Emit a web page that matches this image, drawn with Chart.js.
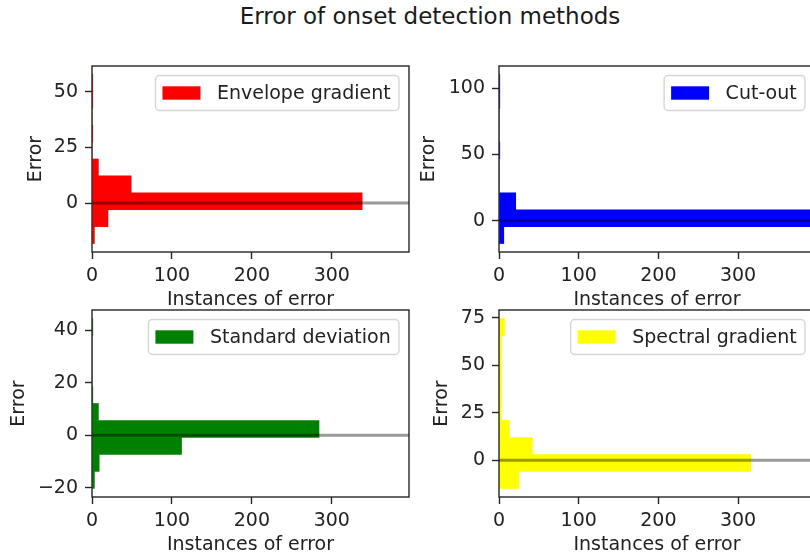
<!DOCTYPE html>
<html>
<head>
<meta charset="utf-8">
<script src="https://cdn.jsdelivr.net/npm/chart.js@4.4.0/dist/chart.umd.min.js"></script>
<style>
  html, body { margin: 0; padding: 0; background: #fff; overflow: hidden; width: 810px; height: 559px; }
  #title { position: absolute; left: 0; width: 860px; top: 5px; text-align: center;
           font-family: 'DejaVu Sans', sans-serif; font-size: 23px; line-height: 23px; color: #1a1a1a; }
  canvas { position: absolute; }
</style>
</head>
<body>
<div id="title">Error of onset detection methods</div>
<canvas id="c1" width="420" height="272" style="left:0px;top:40px"></canvas>
<canvas id="c2" width="420" height="272" style="left:406px;top:40px"></canvas>
<canvas id="c3" width="420" height="273" style="left:0px;top:284px"></canvas>
<canvas id="c4" width="420" height="273" style="left:406px;top:284px"></canvas>
<script>
// Histogram bin centres (error) and number of instances per bin, one pair per method
const envelopeErrors = [-14.4, -6.8, 0.8, 8.4, 16.0, 23.6, 31.2, 38.8, 46.4, 54.0];
const envelopeCounts = [3, 20, 338, 49, 8, 0, 1, 0, 1, 1];
const cutoutErrors   = [-10.93, 1.82, 14.57, 27.32, 40.07, 52.82, 65.57, 78.32, 91.07, 103.82];
const cutoutCounts   = [6, 391, 21, 0, 0, 1, 0, 0, 1, 1];
const stdErrors      = [-17.06, -10.58, -4.10, 2.38, 8.86, 15.34, 21.82, 28.30, 34.78, 41.26];
const stdCounts      = [3, 9, 112, 284, 8, 1, 0, 0, 0, 1];
const spectralErrors = [-10.33, -1.39, 7.55, 16.49, 25.43, 34.37, 43.31, 52.25, 61.19, 70.13];
const spectralCounts = [25, 316, 42, 13, 3, 3, 3, 3, 3, 7];

// Tick values
const countTicks    = [0, 100, 200, 300];
const envelopeTicks = [0, 25, 50];
const cutoutTicks   = [0, 50, 100];
const stdTicks      = [-20, 0, 20, 40];
const spectralTicks = [0, 25, 50, 75];

const COUNT_MAX = 396.6;
const ZERO_ERROR = 0;

const FONT = "'DejaVu Sans', sans-serif";
const INK = '#222222';
Chart.defaults.font.family = FONT;
Chart.defaults.font.size = 19;
Chart.defaults.color = INK;

const toPoints = (ys, xs) => ys.map((y, i) => ({ x: xs[i], y: y }));
const fmt = v => (v < 0 ? '\u2212' + Math.abs(v) : String(v));

// Axes frame drawn over the bars, like plot spines
const framePlugin = {
  id: 'frame',
  afterDatasetsDraw(chart) {
    const { ctx, chartArea: a } = chart;
    ctx.save();
    ctx.strokeStyle = '#262626';
    ctx.lineWidth = 1.4;
    ctx.strokeRect(a.left, a.top, a.right - a.left, a.bottom - a.top);
    ctx.restore();
  }
};

// Boxed legend in the upper right corner of the plot area
const boxLegendPlugin = {
  id: 'boxLegend',
  afterDraw(chart) {
    const ds = chart.data.datasets[0];
    const { ctx, chartArea: a } = chart;
    ctx.save();
    ctx.font = '19px ' + FONT;
    const tw = ctx.measureText(ds.label).width;
    const padL = 7, handle = 38, gap = 16.5, padR = 8.3, h = 35;
    const w = padL + handle + gap + tw + padR;
    const right = a.right - 10;
    const left = right - w;
    const top = a.top + 9.5;
    ctx.beginPath();
    ctx.roundRect(left, top, w, h, 4);
    ctx.fillStyle = 'rgba(255,255,255,0.8)';
    ctx.fill();
    ctx.strokeStyle = 'rgba(204,204,204,0.8)';
    ctx.lineWidth = 1.4;
    ctx.stroke();
    const cy = top + h / 2;
    ctx.fillStyle = ds.backgroundColor;
    ctx.fillRect(left + padL, cy - 6.7, handle, 13.4);
    ctx.fillStyle = INK;
    ctx.textBaseline = 'middle';
    ctx.textAlign = 'left';
    ctx.fillText(ds.label, left + padL + handle + gap, cy + 1);
    ctx.restore();
  }
};

function makePanel(id, label, color, errors, counts, yTicks, yMin, yMax, yAxisWidth, titlePad, xTitlePad) {
  new Chart(document.getElementById(id), {
    type: 'bar',
    data: {
      datasets: [
        {
          type: 'bar',
          label: label,
          data: toPoints(errors, counts),
          backgroundColor: color,
          borderWidth: 0,
          barPercentage: 1,
          categoryPercentage: 1,
          order: 1
        },
        {
          type: 'line',
          label: 'zero',
          data: [{ x: 0, y: ZERO_ERROR }, { x: COUNT_MAX, y: ZERO_ERROR }],
          borderColor: 'rgba(0,0,0,0.4)',
          borderWidth: 2.9,
          pointRadius: 0,
          fill: false,
          order: 0
        }
      ]
    },
    options: {
      indexAxis: 'y',
      responsive: false,
      animation: false,
      events: [],
      layout: { padding: { top: 26, right: 11, bottom: 0, left: 0 } },
      plugins: { legend: { display: false }, tooltip: { enabled: false } },
      scales: {
        x: {
          type: 'linear',
          min: 0,
          max: COUNT_MAX,
          offset: false,
          afterBuildTicks: s => { s.ticks = countTicks.map(v => ({ value: v })); },
          afterFit: s => { s.height = 60; },
          grid: { display: true, drawOnChartArea: false, drawTicks: true, tickLength: 7,
                  tickColor: '#262626', tickWidth: 1.4, offset: false },
          border: { display: false },
          ticks: { padding: 6, color: INK, font: { size: 19 }, callback: v => fmt(v), maxRotation: 0 },
          title: { display: true, text: 'Instances of error', color: INK, font: { size: 19 },
                   padding: { top: 0, bottom: xTitlePad } }
        },
        y: {
          type: 'linear',
          min: yMin,
          max: yMax,
          offset: false,
          afterBuildTicks: s => { s.ticks = yTicks.map(v => ({ value: v })); },
          afterFit: s => { s.width = yAxisWidth; },
          grid: { display: true, drawOnChartArea: false, drawTicks: true, tickLength: 7,
                  tickColor: '#262626', tickWidth: 1.4, offset: false },
          border: { display: false },
          ticks: { padding: 7, color: INK, font: { size: 19 }, callback: v => fmt(v) },
          title: { display: true, text: 'Error', color: INK, font: { size: 19 },
                   padding: { top: titlePad, bottom: 0 } }
        }
      }
    },
    plugins: [framePlugin, boxLegendPlugin]
  });
}

makePanel('c1', 'Envelope gradient', '#ff0000', envelopeErrors, envelopeCounts, envelopeTicks, -22.0, 61.6, 92, 24.5, 1);
makePanel('c2', 'Cut-out', '#0000ff', cutoutErrors, cutoutCounts, cutoutTicks, -23.7, 116.6, 93, 11.5, 1);
makePanel('c3', 'Standard deviation', '#008000', stdErrors, stdCounts, stdTicks, -23.6, 47.8, 92, 8, 0.5);
makePanel('c4', 'Spectral gradient', '#ffff00', spectralErrors, spectralCounts, spectralTicks, -19.3, 79.1, 93, 25, 0.5);
</script>
</body>
</html>
